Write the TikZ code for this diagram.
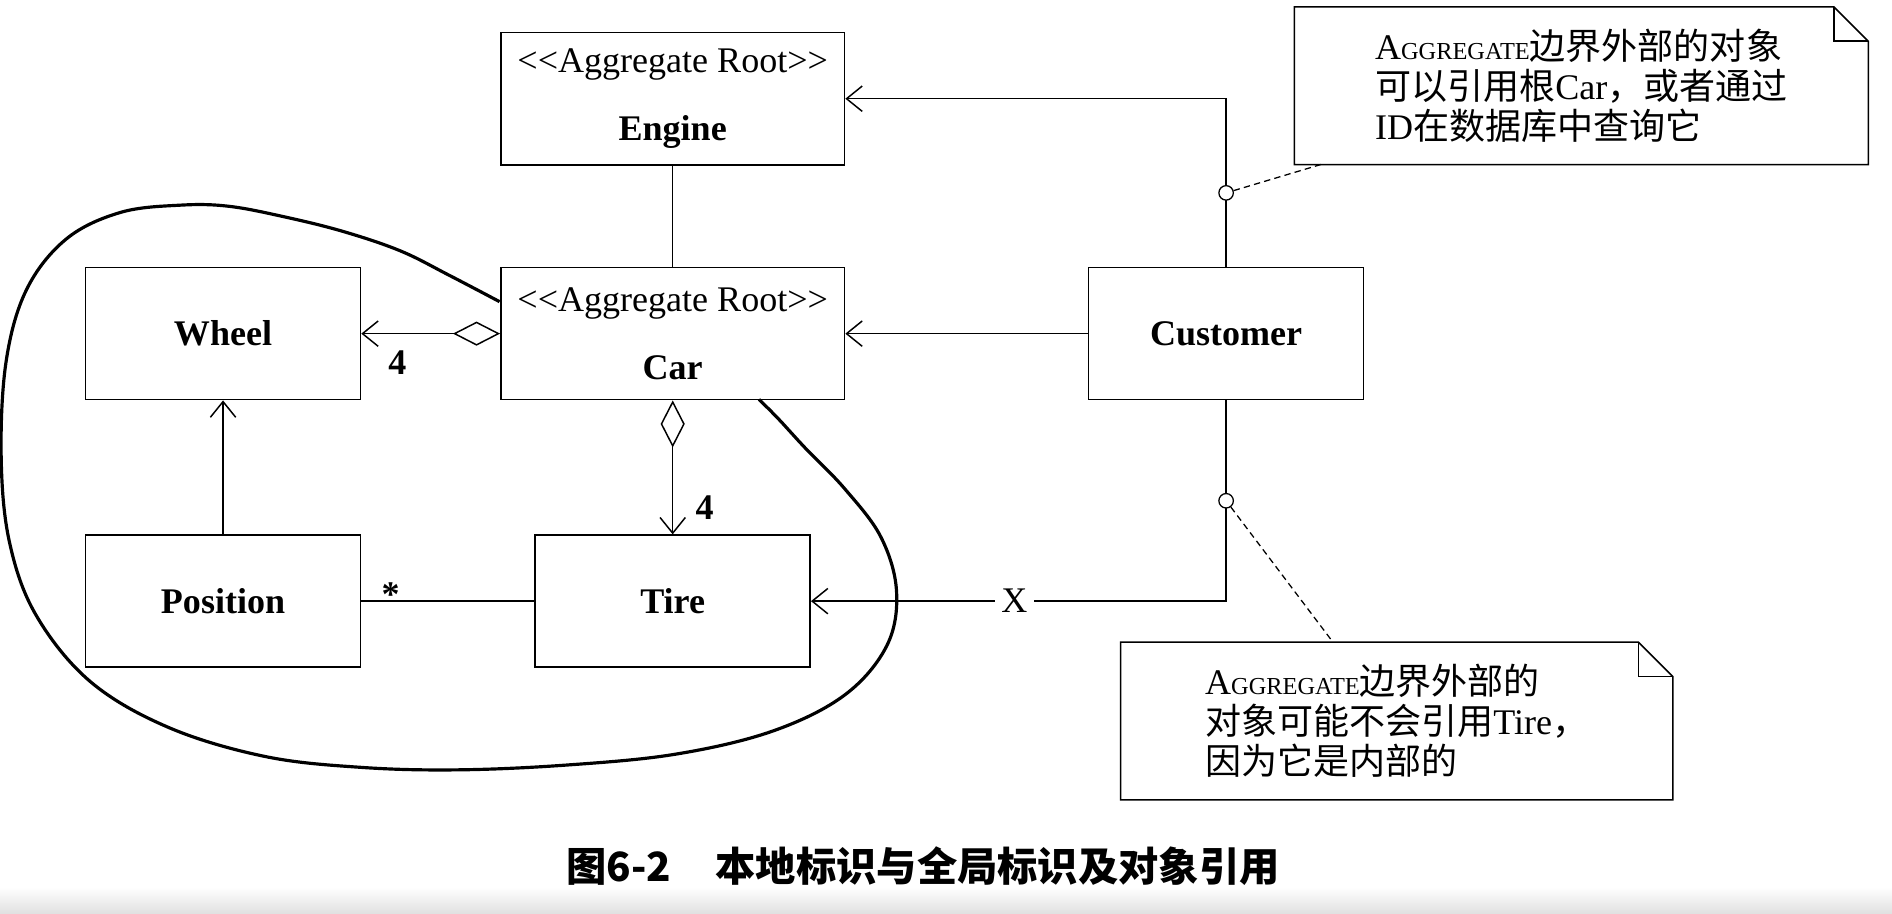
\documentclass[tikz,border=0pt]{standalone}
\usepackage{fontspec}
\setmainfont{Liberation Serif}
\newfontfamily\cjk{Noto Sans CJK SC}
\usepackage{tikz}
\usetikzlibrary{arrows.meta, positioning, calc}
\tikzstyle{classbox} = [rectangle, draw=black, line width=0.7pt, minimum width=4.56cm, minimum height=2.19cm, text centered, font=\fontsize{17}{20}\selectfont\bfseries]
\tikzstyle{rootbox} = [classbox, minimum width=5.7cm, align=center, font=\fontsize{17}{20}\selectfont]
\tikzstyle{notebox} = [rectangle, align=left, minimum height=2.6cm, font=\fontsize{17}{19}\selectfont]
\tikzstyle{notepen} = [line width=0.7pt]
\tikzstyle{assoc} = [line width=0.7pt, -{Straight Barb[length=0.26cm, width=0.42cm]}]
\tikzstyle{aggr} = [line width=0.7pt, {Diamond[open, length=0.78cm, width=0.4cm]}-{Straight Barb[length=0.26cm, width=0.42cm]}]
\tikzstyle{ring} = [circle, draw, fill=white, inner sep=0pt, minimum size=0.24cm, line width=0.6pt]
\tikzstyle{boundary} = [line width=1.5pt, line join=round]
\tikzstyle{mult} = [font=\fontsize{17}{20}\selectfont\bfseries]
\newcommand{\stereo}{<\kern0pt<Aggregate Root>\kern0pt>}
\newcommand{\aggtext}{A{\fontsize{11.5}{13}\selectfont GGREGATE}}
\newcommand{\dogear}[1]{%
  \draw[notepen] (#1.south west) -- (#1.south east) -- ([yshift=-0.57cm]#1.north east)
    -- ([xshift=-0.57cm]#1.north east) -- (#1.north west) -- cycle;
  \draw[notepen] ([xshift=-0.57cm]#1.north east) |- ([yshift=-0.57cm]#1.north east);}

\begin{document}
\begin{tikzpicture}[x=0.02cm, y=-0.02cm]
    \useasboundingbox (0,0) rectangle (1568,757);
    \shade[top color=white, bottom color=black!12] (0,735) rectangle (1568,757);

    % Classes
    \node[rootbox] (car) at (557.5,276.5) {\stereo\\[12pt]\textbf{Car}};
    \node[rootbox, above=1.68cm of car] (engine) {\stereo\\[12pt]\textbf{Engine}};
    \node[classbox, left=2.3cm of car] (wheel) {Wheel};
    \node[classbox, below=2.22cm of wheel] (position) {Position};
    \node[classbox, below=2.22cm of car] (tire) {Tire};
    \node[classbox, right=4.02cm of car] (customer) {Customer};

    % Notes
    \node[notebox, minimum width=9.5cm] (note1) at (1310.5,71)
        {\aggtext{\cjk 边界外部的对象}\\{\cjk 可以引用根}Car{\cjk ，或者通过}\\ID{\cjk 在数据库中查询它}};
    \node[notebox, minimum width=9.14cm] (note2) at (1157.5,597.5)
        {\aggtext{\cjk 边界外部的}\\{\cjk 对象可能不会引用}Tire{\cjk ，}\\{\cjk 因为它是内部的}};
    \dogear{note1}
    \dogear{note2}

    % Aggregate boundary
    \draw[boundary] plot[smooth, tension=0.6] coordinates {(414,250) (372,228) (332,208) (285,192) (237,180) (190,171) (150,170) (100,176) (55,198) (22,240) (5,300) (1,380) (8,450) (30,510) (75,565) (140,603) (220,627) (300,636) (380,638) (470,634) (560,625) (640,606) (700,576) (735,535) (743,490) (730,445) (700,405) (668,372) (645,347) (629,331)};

    % Associations
    \draw[line width=0.7pt] (engine) -- (car);
    \draw[aggr] (car) -- (wheel) node[mult, pos=0.74, below=0.15cm] {4};
    \draw[aggr] (car) -- (tire) node[mult, pos=0.8, right=0.25cm] {4};
    \draw[assoc] (position) -- (wheel);
    \draw[line width=0.7pt] (position) -- (tire)
        node[mult, pos=0.17, anchor=south, inner sep=0pt, yshift=-0.1cm] {*};
    \draw[assoc] (customer) -- (car);
    \draw[assoc] (customer.north) |- (engine.east) node[ring, pos=0.22] (ring1) {};
    \draw[assoc] (customer.south) |- (tire.east) node[ring, pos=0.25] (ring2) {}
        node[pos=0.755, fill=white, inner sep=3pt, font=\fontsize{17}{20}\selectfont] (cross) {X};

    % Note anchors
    \draw[dashed, line width=0.6pt, dash pattern=on 3pt off 2pt] (ring1) -- ([xshift=0.44cm]note1.south west);
    \draw[dashed, line width=0.6pt, dash pattern=on 3pt off 2pt] (ring2) -- ([xshift=3.52cm]note2.north west);

    % Caption
    \node[font=\fontsize{19}{22}\selectfont\cjk\bfseries] (caption) at (765,718)
        {图6-2\hspace{1.1em}本地标识与全局标识及对象引用};
\end{tikzpicture}
\end{document}
